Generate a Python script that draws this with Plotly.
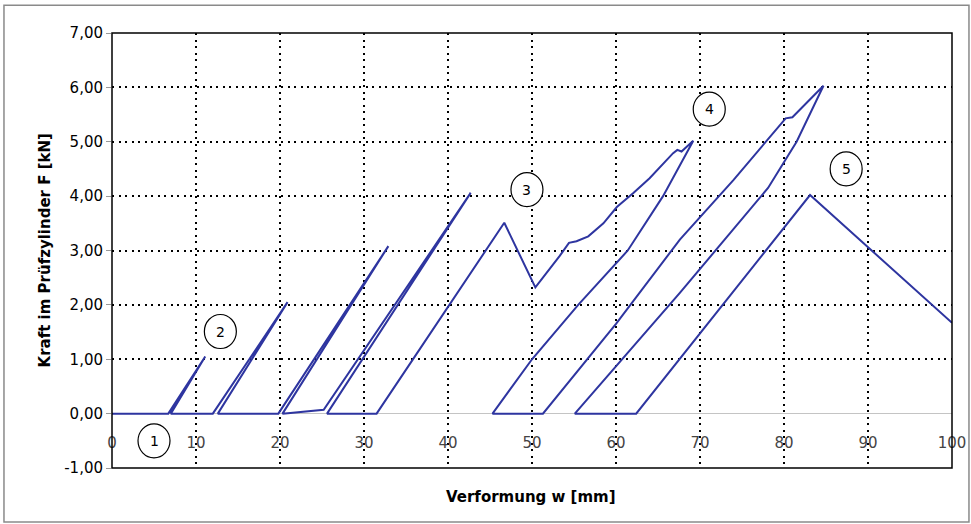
import plotly.graph_objects as go

# Verformung w [mm] and Kraft F [kN] (one continuous load path)
w_mm = [0, 6.7, 11.1, 7.0, 12.0, 20.9, 12.6, 19.8, 32.9, 20.3, 25.2, 42.7, 25.6, 31.5,
        46.7, 50.4, 53.3, 54.4, 55.3, 56.7, 58.5, 60.1, 62.1, 64.0, 66.8, 67.3, 67.8, 69.2,
        65.6, 61.4, 55.5, 50.0, 45.3, 51.3, 60.0, 67.6, 74.0, 80.2, 81.0, 84.7,
        81.5, 78.1, 67.6, 55.1, 62.4, 83.1, 100.0]
F_kN = [0, 0, 1.05, 0, 0, 2.05, 0, 0, 3.08, 0, 0.07, 4.06, 0, 0,
        3.51, 2.32, 2.9, 3.14, 3.17, 3.26, 3.5, 3.8, 4.06, 4.33, 4.79, 4.85, 4.82, 5.02,
        4.0, 3.0, 2.0, 1.0, 0, 0, 1.65, 3.2, 4.3, 5.43, 5.45, 6.03,
        5.0, 4.15, 2.22, 0, 0, 4.02, 1.67]

# circled cycle labels
cycle_labels = ["1", "2", "3", "4", "5"]
label_w = [5.0, 12.9, 49.4, 71.1, 87.4]
label_F = [-0.5, 1.51, 4.12, 5.6, 4.5]

x_ticks = [0, 10, 20, 30, 40, 50, 60, 70, 80, 90, 100]
x_tick_text = ["0", "10", "20", "30", "40", "50", "60", "70", "80", "90", "100"]
y_ticks = [-1, 0, 1, 2, 3, 4, 5, 6, 7]
y_tick_text = ["-1,00", "0,00", "1,00", "2,00", "3,00", "4,00", "5,00", "6,00", "7,00"]

x_title = "Verformung w [mm]"
y_title = "Kraft im Prüfzylinder F [kN]"

FONT = "DejaVu Sans"
dash = "2px,4.5px"

fig = go.Figure()
fig.add_trace(go.Scatter(x=w_mm, y=F_kN, mode="lines",
                         line=dict(color="#2e35a0", width=2), showlegend=False,
                         hoverinfo="skip"))

shapes = []
for lbl, lx, ly in zip(cycle_labels, label_w, label_F):
    shapes.append(dict(type="circle", xref="x", yref="y", xsizemode="pixel", ysizemode="pixel",
                       xanchor=lx, yanchor=ly, x0=-16, x1=16, y0=-17, y1=17,
                       line=dict(color="black", width=1.2), fillcolor="white"))
    fig.add_annotation(x=lx, y=ly, text=lbl, showarrow=False,
                       font=dict(family=FONT, size=14, color="black"))

# axis titles
fig.add_annotation(xref="paper", yref="paper", x=0.499, y=-0.0667, text="<b>" + x_title + "</b>",
                   showarrow=False, xanchor="center", yanchor="middle",
                   font=dict(family=FONT, size=15, color="black"))
fig.add_annotation(xref="paper", yref="paper", x=-0.0798, y=0.5, text="<b>" + y_title + "</b>",
                   showarrow=False, xanchor="center", yanchor="middle", textangle=-90,
                   font=dict(family=FONT, size=15, color="black"))

# plot-area frame
shapes.append(dict(type="rect", xref="paper", yref="paper", x0=0, x1=1, y0=0, y1=1,
                   line=dict(color="black", width=1.5), layer="above"))
# outer chart frame
shapes.append(dict(type="rect", xref="paper", yref="paper", x0=-0.1286, x1=1.0202,
                   y0=-0.124, y1=1.064, line=dict(color="#8a8a8a", width=1.5), layer="below"))

fig.update_layout(
    width=971, height=524,
    margin=dict(l=112, r=19, t=33, b=56, autoexpand=False),
    paper_bgcolor="white", plot_bgcolor="white",
    font=dict(family=FONT, size=15, color="black"),
    shapes=shapes,
    xaxis=dict(range=[0, 100], tickvals=x_ticks, ticktext=x_tick_text, automargin=False,
               showgrid=True, gridcolor="black", gridwidth=1.5, griddash=dash,
               zeroline=False, showline=False, ticks="",
               ticklabelposition="inside", ticklabelstandoff=14, ticklabeloverflow="allow",
               tickfont=dict(family=FONT, size=15)),
    yaxis=dict(range=[-1, 7], tickvals=y_ticks, ticktext=y_tick_text, automargin=False,
               showgrid=True, gridcolor="black", gridwidth=1.5, griddash=dash,
               zeroline=True, zerolinecolor="#c4c4c4", zerolinewidth=1,
               showline=False, ticks="outside", ticklen=5, tickcolor="#999999",
               tickfont=dict(family=FONT, size=15)),
)

fig.write_html("out.html", config={"displayModeBar": False},
               post_script="document.body.style.margin='0';")
